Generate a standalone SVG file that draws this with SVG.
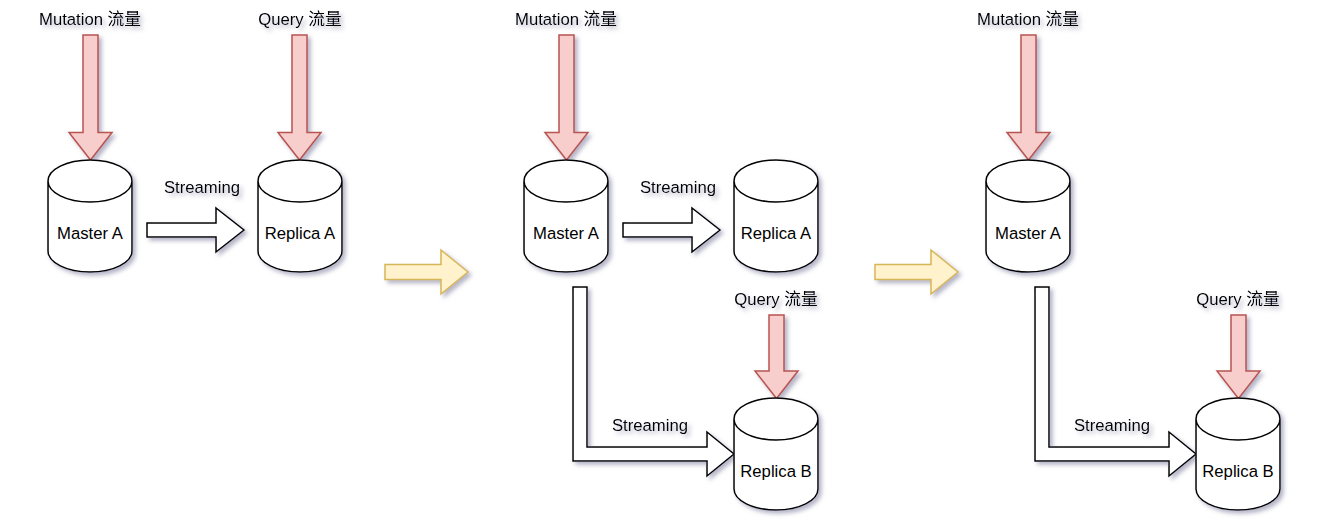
<svg xmlns="http://www.w3.org/2000/svg" width="1337" height="525" viewBox="0 0 1337 525">
<style>
text{font-family:"Liberation Sans","Noto Sans CJK SC",sans-serif;font-size:16.7px;fill:#000;text-anchor:middle}
.lbl{filter:url(#sh)}
.cyl{fill:#fff;stroke:#000;stroke-width:1.5}
.red{fill:#f8cecc;stroke:#b85450;stroke-width:1.5;filter:url(#sh)}
.yel{fill:#fff2cc;stroke:#d6b656;stroke-width:1.5;filter:url(#sh)}
.flow{fill:#fff;stroke:#000;stroke-width:1.5;filter:url(#sh)}
</style>
<defs>
<filter id="sh" x="-30%" y="-30%" width="170%" height="170%"><feDropShadow dx="3" dy="3" stdDeviation="2.2" flood-color="#77779a" flood-opacity="0.55"/></filter>
<path id="can" d="M0 21C0 9.400 18.800 0 42 0S84 9.400 84 21V91C84 102.600 65.200 112 42 112S0 102.600 0 91ZM84 21C84 32.600 65.200 42 42 42S0 32.600 0 21"/>
<path id="red" d="M-7.500 0H7.500V97.500H21.500L0 125L-21.500 97.500H-7.500Z"/>
<path id="red2" d="M-7.500 0H7.500V56H21.500L0 83.500L-21.500 56H-7.500Z"/>
<path id="flat" d="M0 -7H69V-22L97 0L69 22V7H0Z"/>
<path id="ell" d="M0 0H14V160H134V145L161 167L134 189V174H0Z"/>
</defs>
<g id="connectors">
<use href="#red" x="90.500" y="35" class="red"/>
<use href="#red" x="299.500" y="35" class="red"/>
<use href="#flat" x="147" y="230" class="flow"/>
<use href="#red" x="566.500" y="35" class="red"/>
<use href="#flat" x="623" y="230" class="flow"/>
<use href="#ell" x="573" y="287" class="flow"/>
<use href="#red2" x="776.500" y="315" class="red"/>
<use href="#red" x="1028.500" y="35" class="red"/>
<use href="#ell" x="1035" y="287" class="flow"/>
<use href="#red2" x="1238.500" y="315" class="red"/>
<path class="yel" d="M385 264.500H441V250L468 272L441 294V279.500H385Z"/>
<path class="yel" d="M875 264.500H931V250L958 272L931 294V279.500H875Z"/>
</g>
<g id="master-a-1"><use href="#can" x="48" y="160" class="cyl" filter="url(#sh)"/><text x="90" y="239">Master A</text></g>
<g id="replica-a-1"><use href="#can" x="258" y="160" class="cyl" filter="url(#sh)"/><text x="300" y="239">Replica A</text></g>
<g id="master-a-2"><use href="#can" x="524" y="160" class="cyl" filter="url(#sh)"/><text x="566" y="239">Master A</text></g>
<g id="replica-a-2"><use href="#can" x="734" y="160" class="cyl" filter="url(#sh)"/><text x="776" y="239">Replica A</text></g>
<g id="replica-b-2"><use href="#can" x="734" y="398" class="cyl" filter="url(#sh)"/><text x="776" y="477">Replica B</text></g>
<g id="master-a-3"><use href="#can" x="986" y="160" class="cyl" filter="url(#sh)"/><text x="1028" y="239">Master A</text></g>
<g id="replica-b-3"><use href="#can" x="1196" y="398" class="cyl" filter="url(#sh)"/><text x="1238" y="477">Replica B</text></g>
<g id="labels">
<text class="lbl" x="90" y="25">Mutation 流量</text>
<text class="lbl" x="300" y="25">Query 流量</text>
<text class="lbl" x="202" y="193">Streaming</text>
<text class="lbl" x="566" y="25">Mutation 流量</text>
<text class="lbl" x="678" y="193">Streaming</text>
<text class="lbl" x="776" y="305">Query 流量</text>
<text class="lbl" x="650" y="431">Streaming</text>
<text class="lbl" x="1028" y="25">Mutation 流量</text>
<text class="lbl" x="1238" y="305">Query 流量</text>
<text class="lbl" x="1112" y="431">Streaming</text>
</g>
</svg>
